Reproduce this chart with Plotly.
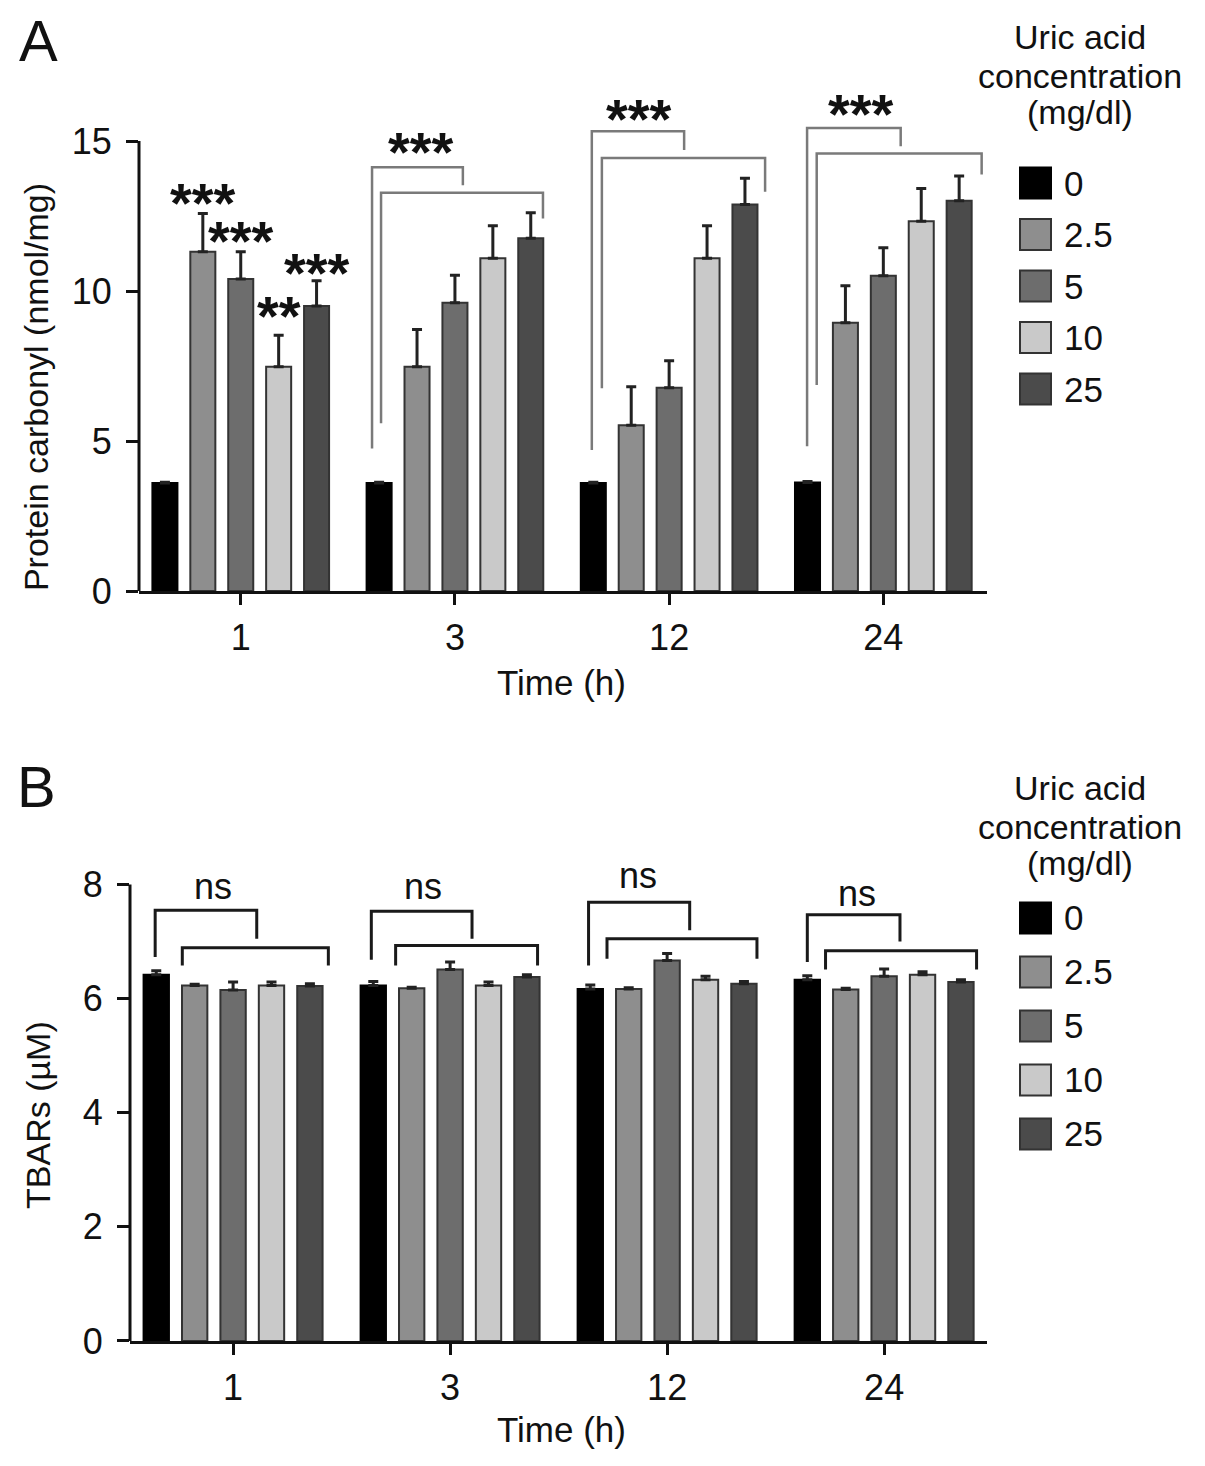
import plotly.graph_objects as go

times = ["1", "3", "12", "24"]
concs = ["0", "2.5", "5", "10", "25"]
bar_colors = ["#000000", "#8e8e8e", "#6d6d6d", "#c9c9c9", "#4b4b4b"]

# protein carbonyl (nmol/mg), one list per uric acid concentration, ordered by time
carb_0 = [3.60, 3.60, 3.60, 3.62]
carb_2_5 = [11.31, 7.48, 5.53, 8.94]
carb_5 = [10.40, 9.61, 6.78, 10.51]
carb_10 = [7.48, 11.09, 11.09, 12.33]
carb_25 = [9.50, 11.76, 12.89, 13.01]
carb_err_0 = [0.03, 0.03, 0.03, 0.03]
carb_err_2_5 = [1.28, 1.24, 1.28, 1.24]
carb_err_5 = [0.91, 0.92, 0.90, 0.93]
carb_err_10 = [1.05, 1.09, 1.09, 1.09]
carb_err_25 = [0.84, 0.85, 0.87, 0.83]

# TBARs (uM)
tbar_0 = [6.42, 6.23, 6.17, 6.33]
tbar_2_5 = [6.23, 6.18, 6.17, 6.16]
tbar_5 = [6.15, 6.51, 6.67, 6.39]
tbar_10 = [6.23, 6.23, 6.33, 6.42]
tbar_25 = [6.22, 6.38, 6.26, 6.29]
tbar_err_0 = [0.07, 0.07, 0.07, 0.07]
tbar_err_2_5 = [0.02, 0.02, 0.02, 0.02]
tbar_err_5 = [0.14, 0.13, 0.12, 0.13]
tbar_err_10 = [0.06, 0.06, 0.06, 0.05]
tbar_err_25 = [0.04, 0.04, 0.04, 0.04]

carb = [carb_0, carb_2_5, carb_5, carb_10, carb_25]
carb_err = [carb_err_0, carb_err_2_5, carb_err_5, carb_err_10, carb_err_25]
tbar = [tbar_0, tbar_2_5, tbar_5, tbar_10, tbar_25]
tbar_err = [tbar_err_0, tbar_err_2_5, tbar_err_5, tbar_err_10, tbar_err_25]

# significance marks: (time index, bar index, height, label)
carb_bar_marks = [(0, 1, 13.23, "***"), (0, 2, 11.94, "***"), (0, 3, 9.46, "**"), (0, 4, 10.90, "***")]
# brackets: (time index, left, right, top, left end, right end)
carb_brackets = [
    (1, -0.387, 0.037, 14.13, 4.75, 13.53), (1, -0.345, 0.411, 13.28, 5.59, 12.42),
    (2, -0.361, 0.070, 15.33, 4.70, 14.70), (2, -0.314, 0.448, 14.44, 6.76, 13.31),
    (3, -0.356, 0.081, 15.44, 4.83, 14.83), (3, -0.311, 0.459, 14.59, 6.87, 13.89),
]
carb_bracket_labels = [(1, -0.159, 14.92, "***"), (2, -0.14, 16.01, "***"), (3, -0.106, 16.2, "***")]
tbar_brackets = [
    (0, -0.359, 0.109, 7.55, 6.73, 7.05), (0, -0.234, 0.439, 6.89, 6.58, 6.58),
    (1, -0.363, 0.101, 7.53, 6.68, 7.05), (1, -0.251, 0.403, 6.93, 6.58, 6.58),
    (2, -0.362, 0.104, 7.69, 6.58, 7.20), (2, -0.277, 0.414, 7.05, 6.70, 6.70),
    (3, -0.354, 0.073, 7.47, 6.64, 7.00), (3, -0.270, 0.426, 6.84, 6.51, 6.51),
]
tbar_bracket_labels = [(0, -0.094, 7.97, "ns"), (1, -0.124, 7.97, "ns"), (2, -0.132, 8.15, "ns"), (3, -0.127, 7.85, "ns")]

# page: 8px body margin; the shot comes back a bit squeezed vertically
PAD = 8
VIEW_H = 1487
SQ = 1466 / VIEW_H
W, H = 1205 - 2 * PAD, VIEW_H - 2 * PAD
FONT = "Liberation Sans"
BARGAP = 0.115
slot = (1 - BARGAP) / len(concs)
xpos = list(range(len(times)))


def px(x):
    return (x - PAD) / W


def py(y):
    return 1 - (y / SQ - PAD) / H


fig = go.Figure()
for panel, (vals, errs) in enumerate([(carb, carb_err), (tbar, tbar_err)]):
    ax = "" if panel == 0 else "2"
    for i, c in enumerate(concs):
        fig.add_trace(go.Bar(
            x=xpos, y=vals[i], name=c, showlegend=False,
            xaxis="x" + ax, yaxis="y" + ax,
            marker=dict(color=bar_colors[i], line=dict(color="#333333" if i else "#000000", width=2)),
            error_y=dict(type="data", array=errs[i], arrayminus=[0] * len(times), symmetric=False,
                         color="#222222", thickness=3, width=5),
        ))

axis_common = dict(showgrid=False, zeroline=False, ticks="outside", tickwidth=3,
                   tickcolor="#111111", tickfont=dict(family=FONT, size=36, color="#111111"))
fig.update_layout(
    width=W, height=H, margin=dict(l=0, r=0, t=0, b=0),
    plot_bgcolor="white", paper_bgcolor="white",
    barmode="group", bargap=BARGAP, bargroupgap=0.34,
    font=dict(family=FONT, color="#111111"),
    xaxis=dict(domain=[px(139), px(987)], range=[-0.475, 3.484], tickvals=xpos, ticktext=times,
               showline=True, linewidth=3, linecolor="#111111", ticklen=11, ticklabelstandoff=2,
               anchor="y", **axis_common),
    yaxis=dict(domain=[py(591), py(87)], range=[0, 16.8], tickvals=[0, 5, 10, 15],
               showline=False, ticklen=12, ticklabelstandoff=7, anchor="x", **axis_common),
    xaxis2=dict(domain=[px(130), px(987)], range=[-0.475, 3.474], tickvals=xpos, ticktext=times,
                showline=True, linewidth=3, linecolor="#111111", ticklen=11, ticklabelstandoff=2,
                anchor="y2", **axis_common),
    yaxis2=dict(domain=[py(1341), py(856)], range=[0, 8.5], tickvals=[0, 2, 4, 6, 8],
                showline=False, ticklen=12, ticklabelstandoff=7, anchor="x2", **axis_common),
)

shapes = []
# y axis lines stop at the top tick
for xr, yr, top in [("x", "y", 15), ("x2", "y2", 8)]:
    shapes.append(dict(type="line", xref=xr + " domain", yref=yr, x0=0, x1=0, y0=0, y1=top,
                       line=dict(color="#111111", width=3)))


def bracket_path(g, l, r, top, yl, yr):
    return f"M{g + l},{yl} L{g + l},{top} L{g + r},{top} L{g + r},{yr}"


for g, l, r, top, yl, yr in carb_brackets:
    shapes.append(dict(type="path", xref="x", yref="y", path=bracket_path(g, l, r, top, yl, yr),
                       line=dict(color="#7a7a7a", width=2.5)))
for g, l, r, top, yl, yr in tbar_brackets:
    shapes.append(dict(type="path", xref="x2", yref="y2", path=bracket_path(g, l, r, top, yl, yr),
                       line=dict(color="#1a1a1a", width=3)))

annotations = []
star_font = dict(family=FONT, size=56, color="#111111", weight="bold")
for g, k, y, t in carb_bar_marks:
    annotations.append(dict(x=g + (k - 2) * slot, y=y, xref="x", yref="y", text=t, showarrow=False,
                            xanchor="center", yanchor="middle", font=star_font, yshift=-8))
for g, off, y, t in carb_bracket_labels:
    annotations.append(dict(x=g + off, y=y, xref="x", yref="y", text=t, showarrow=False,
                            xanchor="center", yanchor="middle", font=star_font, yshift=-8))
for g, off, y, t in tbar_bracket_labels:
    annotations.append(dict(x=g + off, y=y, xref="x2", yref="y2", text=t, showarrow=False,
                            xanchor="center", yanchor="middle",
                            font=dict(family=FONT, size=36, color="#111111")))

# axis titles and panel letters
texts = [
    ("A", 38, 40, 58, 0), ("B", 36, 787, 58, 0),
    ("Time (h)", 561, 682, 35, 0), ("Time (h)", 561, 1430, 35, 0),
    ("Protein carbonyl (nmol/mg)", 36, 387, 34, -90), ("TBARs (µM)", 38, 1115, 34, -90),
]
for t, x, y, s, rot in texts:
    annotations.append(dict(x=px(x), y=py(y), xref="paper", yref="paper", text=t, showarrow=False,
                            xanchor="center", yanchor="middle", textangle=rot,
                            font=dict(family=FONT, size=s, color="#111111")))

# legends, one per panel
for title_ys, sq_y0, step in [((37, 76, 112), 183, 51.5), ((788, 826.7, 863), 918, 54)]:
    for line, y in zip(["Uric acid", "concentration", "(mg/dl)"], title_ys):
        annotations.append(dict(x=px(1080), y=py(y), xref="paper", yref="paper", text=line,
                                xanchor="center", yanchor="middle", showarrow=False,
                                font=dict(family=FONT, size=34, color="#111111")))
    for i, c in enumerate(concs):
        cy = sq_y0 + i * step
        shapes.append(dict(type="rect", xref="paper", yref="paper",
                           x0=px(1020), x1=px(1051), y0=py(cy + 15.5), y1=py(cy - 15.5),
                           fillcolor=bar_colors[i], line=dict(color="#333333" if i else "#000000", width=2)))
        annotations.append(dict(x=px(1062), y=py(cy), xref="paper", yref="paper", text=c,
                                xanchor="left", yanchor="middle", showarrow=False,
                                font=dict(family=FONT, size=35, color="#111111")))

fig.update_layout(shapes=shapes, annotations=annotations)
fig.write_html("out.html")
